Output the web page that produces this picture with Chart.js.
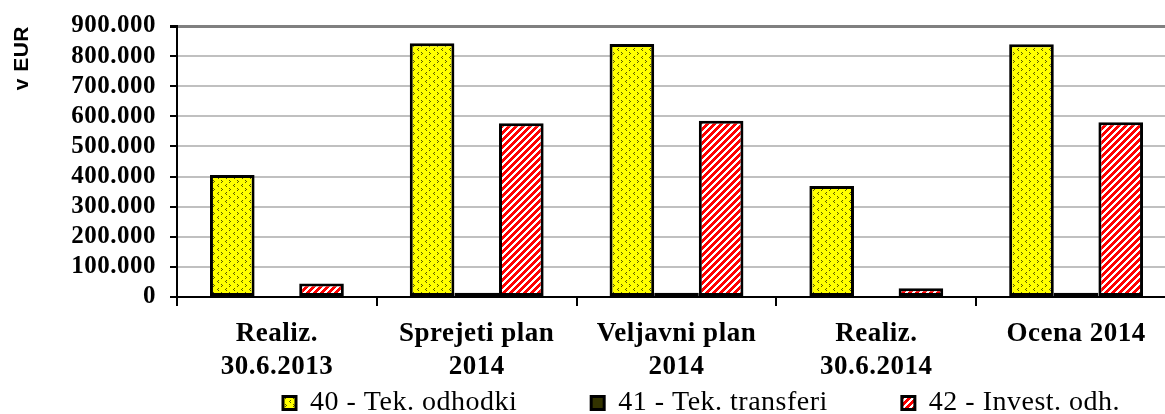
<!DOCTYPE html>
<html>
<head>
<meta charset="utf-8">
<script src="https://cdn.jsdelivr.net/npm/chart.js@4/dist/chart.umd.min.js"></script>
<style>
  html, body { margin: 0; padding: 0; overflow: hidden; background: #fff; }
  #wrap { width: 1180px; height: 414px; }
</style>
</head>
<body>
<div id="wrap"><canvas id="my-chart"></canvas></div>
<script>
const categories = [
  ["Realiz.", "30.6.2013"],
  ["Sprejeti plan", "2014"],
  ["Veljavni plan", "2014"],
  ["Realiz.", "30.6.2014"],
  ["Ocena 2014"]
];
const seriesNames = ["40 - Tek. odhodki", "41 - Tek. transferi", "42 - Invest. odh."];
const tekOdhodki = [405000, 843000, 840000, 369000, 839000];
const tekTransferi = [3000, 14000, 14000, 3000, 14000];
const investOdh = [45000, 577000, 585000, 29000, 580000];
const yTicks = [0, 100000, 200000, 300000, 400000, 500000, 600000, 700000, 800000, 900000];

// yellow with small dark < and > marks
function dotPattern() {
  const c = document.createElement("canvas");
  c.width = 8;
  c.height = 8;
  const g = c.getContext("2d");
  g.fillStyle = "#ffff00";
  g.fillRect(0, 0, 8, 8);
  g.fillStyle = "#5a5a00";
  [[2, 0], [1, 1], [2, 2], [5, 4], [6, 5], [5, 6]].forEach(p => g.fillRect(p[0], p[1], 1, 1));
  return g.createPattern(c, "repeat");
}

// red with white "/" stripes
function stripePattern() {
  const c = document.createElement("canvas");
  c.width = 7;
  c.height = 7;
  const g = c.getContext("2d");
  for (let x = 0; x < 7; x++) {
    for (let y = 0; y < 7; y++) {
      g.fillStyle = ((x + y) % 7) < 3 ? "#ffffff" : "#ff0000";
      g.fillRect(x, y, 1, 1);
    }
  }
  return g.createPattern(c, "repeat");
}

// the text in the picture is a bit wider than plain Times
const spacing = {
  id: "spacing",
  beforeLayout(chart) { chart.ctx.letterSpacing = "0.5px"; },
  beforeDraw(chart) { chart.ctx.letterSpacing = "0.5px"; }
};

// move the legend where the original has it
const legendPlace = {
  id: "legendPlace",
  afterLayout(chart) {
    const lg = chart.legend;
    const pad = lg.options.labels.padding;
    lg.left = 283 - pad;
    lg.right = 1400;
    lg.top = 404 - pad - 15;
  }
};

const ctx = document.getElementById("my-chart").getContext("2d");

const myChart = new Chart(ctx, {
  type: "bar",
  data: {
    labels: categories,
    datasets: [
      { label: seriesNames[0], data: tekOdhodki, backgroundColor: dotPattern() },
      { label: seriesNames[1], data: tekTransferi, backgroundColor: "#333300" },
      { label: seriesNames[2], data: investOdh, backgroundColor: stripePattern() }
    ]
  },
  options: {
    responsive: true,
    maintainAspectRatio: false,
    animation: false,
    layout: { padding: { top: 26, right: 4, left: 0, bottom: 0 } },
    datasets: {
      bar: {
        borderColor: "#000",
        borderWidth: 3,
        borderSkipped: false,
        categoryPercentage: 0.67,
        barPercentage: 1.0
      }
    },
    plugins: {
      tooltip: { enabled: false },
      legend: {
        position: "bottom",
        align: "start",
        maxHeight: 22,
        labels: {
          color: "#000",
          boxWidth: 13,
          boxHeight: 13,
          padding: 74,
          font: { family: "'Liberation Serif', 'Times New Roman', serif", size: 28 }
        }
      }
    },
    scales: {
      x: {
        afterFit(scale) { scale.height = 95; },
        grid: {
          display: true,
          drawOnChartArea: false,
          offset: true,
          tickLength: 9,
          tickColor: "#000",
          lineWidth: 2
        },
        border: { color: "#000", width: 2 },
        ticks: {
          color: "#000",
          padding: 11,
          maxRotation: 0,
          font: { family: "'Liberation Serif', 'Times New Roman', serif", size: 27, weight: "bold", lineHeight: 1.24 }
        }
      },
      y: {
        min: 0,
        max: 900000,
        afterBuildTicks(scale) {
          scale.ticks = yTicks.map(v => ({ value: v }));
        },
        afterFit(scale) {
          scale.width = 177;
          scale.paddingTop = 0;
          scale.paddingBottom = 0;
        },
        grid: {
          color: c => (c.tick && c.tick.value === 900000) ? "#808080" : "#c0c0c0",
          lineWidth: c => (c.tick && c.tick.value === 900000) ? 3 : 2,
          tickLength: 7,
          tickColor: "#000"
        },
        border: { color: "#000", width: 2 },
        ticks: {
          color: "#000",
          padding: 14,
          autoSkip: false,
          font: { family: "'Liberation Serif', 'Times New Roman', serif", size: 25, weight: "bold" },
          callback: v => v.toLocaleString("de-DE")
        },
        title: {
          display: true,
          text: "v EUR",
          align: "end",
          color: "#000",
          padding: { top: 10, bottom: 0 },
          font: { family: "'Liberation Sans', Arial, sans-serif", size: 21, weight: "bold" }
        }
      }
    }
  },
  plugins: [spacing, legendPlace]
});
</script>
</body>
</html>
